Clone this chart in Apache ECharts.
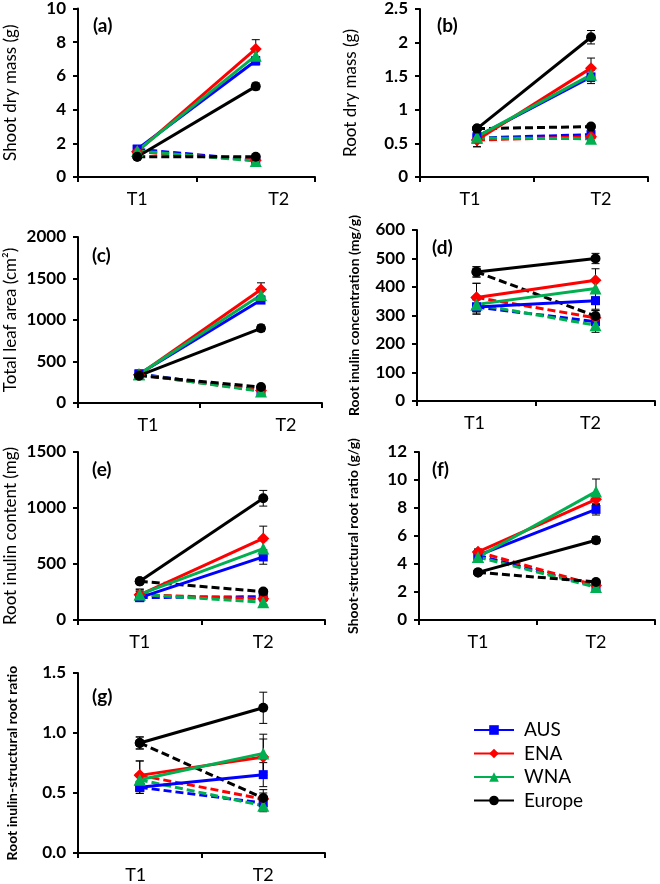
<!DOCTYPE html>
<html>
<head>
<meta charset="utf-8">
<script src="https://cdn.jsdelivr.net/npm/echarts@6/dist/echarts.min.js"></script>
<style>html,body{margin:0;padding:0;background:#fff;}#c{width:660px;height:884px;}</style>
</head>
<body>
<div id="c"></div>
<script>
// ---------- DATA ----------
const categories = ['T1', 'T2'];
const regions = ['AUS', 'ENA', 'WNA', 'Europe'];

// (a) Shoot dry mass (g)  [T1, T2] per region
const a_solid = [[1.65, 6.9], [1.5, 7.6], [1.55, 7.2], [1.2, 5.38]];
const a_solid_err = [[0.1, 0.25], [0.1, 0.55], [0.1, 0.3], [0.08, 0.2]];
const a_dashed = [[1.65, 1.0], [1.5, 1.0], [1.55, 0.95], [1.2, 1.2]];
const a_dashed_err = [[0.1, 0.08], [0.1, 0.08], [0.1, 0.08], [0.08, 0.08]];

// (b) Root dry mass (g)
const b_solid = [[0.6, 1.49], [0.55, 1.62], [0.6, 1.52], [0.72, 2.08]];
const b_solid_err = [[0.04, 0.1], [0.1, 0.15], [0.04, 0.1], [0.03, 0.1]];
const b_dashed = [[0.58, 0.63], [0.55, 0.6], [0.58, 0.57], [0.72, 0.75]];
const b_dashed_err = [[0.04, 0.03], [0.1, 0.03], [0.04, 0.03], [0.03, 0.03]];

// (c) Total leaf area (cm2)
const c_solid = [[350, 1240], [340, 1368], [345, 1300], [330, 900]];
const c_solid_err = [[20, 40], [20, 80], [20, 50], [20, 40]];
const c_dashed = [[350, 150], [340, 150], [345, 140], [330, 192]];
const c_dashed_err = [[20, 15], [20, 15], [20, 15], [20, 15]];

// (d) Root inulin concentration (mg/g)
const d_solid = [[330, 352], [363, 424], [339, 395], [453, 500]];
const d_solid_err = [[25, 30], [50, 40], [20, 30], [18, 18]];
const d_dashed = [[330, 278], [363, 292], [339, 266], [453, 298]];
const d_dashed_err = [[25, 25], [50, 25], [20, 25], [18, 20]];

// (e) Root inulin content (mg)
const e_solid = [[200, 563], [225, 728], [228, 638], [345, 1087]];
const e_solid_err = [[25, 65], [50, 110], [30, 70], [20, 70]];
const e_dashed = [[200, 208], [225, 189], [228, 159], [345, 254]];
const e_dashed_err = [[25, 20], [50, 20], [30, 20], [20, 20]];

// (f) Shoot-structural root ratio (g/g)
const f_solid = [[4.62, 7.9], [4.86, 8.62], [4.5, 9.17], [3.4, 5.7]];
const f_solid_err = [[0.2, 0.4], [0.2, 0.4], [0.2, 0.9], [0.1, 0.25]];
const f_dashed = [[4.62, 2.4], [4.86, 2.47], [4.5, 2.35], [3.4, 2.72]];
const f_dashed_err = [[0.2, 0.15], [0.2, 0.15], [0.2, 0.15], [0.1, 0.15]];

// (g) Root inulin-structural root ratio
const g_solid = [[0.547, 0.653], [0.647, 0.8], [0.61, 0.83], [0.917, 1.21]];
const g_solid_err = [[0.05, 0.1], [0.12, 0.15], [0.05, 0.16], [0.05, 0.13]];
const g_dashed = [[0.547, 0.417], [0.647, 0.45], [0.61, 0.394], [0.917, 0.458]];
const g_dashed_err = [[0.05, 0.05], [0.12, 0.05], [0.05, 0.05], [0.05, 0.07]];

// ---------- STYLE / LAYOUT ----------
const colors = ['#0000FF', '#FF0000', '#00B050', '#000000'];
const symbols = ['rect', 'diamond', 'triangle', 'circle'];
const symbolSizes = [9, 12, 12, 10];
const FONT = 'Lato';

const panels = [
  {tag: '(a)', solid: a_solid, solidErr: a_solid_err, dashed: a_dashed, dashedErr: a_dashed_err,
   grid: {left: 78, top: 8, width: 237, height: 169}, max: 10, interval: 2, dec: 0,
   name: 'Shoot dry mass (g)', nameBold: false, nameSize: 17, nameGap: 59, tagPos: [93, 16], shifts: [0, 23]},
  {tag: '(b)', solid: b_solid, solidErr: b_solid_err, dashed: b_dashed, dashedErr: b_dashed_err,
   grid: {left: 420, top: 9, width: 228, height: 168}, max: 2.5, interval: 0.5, dec: -1,
   name: 'Root dry mass (g)', nameBold: false, nameSize: 17, nameGap: 61, tagPos: [437, 16], shifts: [-7, 10]},
  {tag: '(c)', solid: c_solid, solidErr: c_solid_err, dashed: c_dashed, dashedErr: c_dashed_err,
   grid: {left: 78, top: 237, width: 244, height: 166}, max: 2000, interval: 500, dec: 0,
   name: 'Total leaf area (cm²)', nameBold: false, nameSize: 17, nameGap: 59, tagPos: [92, 246], shifts: [9, 25]},
  {tag: '(d)', solid: d_solid, solidErr: d_solid_err, dashed: d_dashed, dashedErr: d_dashed_err,
   grid: {left: 417, top: 230, width: 238, height: 171}, max: 600, interval: 100, dec: 0,
   name: 'Root inulin concentration (mg/g)', nameBold: true, nameSize: 14, nameGap: 56, tagPos: [432, 238], shifts: [-2, -5]},
  {tag: '(e)', solid: e_solid, solidErr: e_solid_err, dashed: e_dashed, dashedErr: e_dashed_err,
   grid: {left: 78, top: 452, width: 247, height: 168}, max: 1500, interval: 500, dec: 0,
   name: 'Root inulin content (mg)', nameBold: false, nameSize: 17, nameGap: 59, tagPos: [92, 460], shifts: [0, 0]},
  {tag: '(f)', solid: f_solid, solidErr: f_solid_err, dashed: f_dashed, dashedErr: f_dashed_err,
   grid: {left: 419, top: 452, width: 236, height: 168}, max: 12, interval: 2, dec: 0,
   name: 'Shoot-structural root ratio (g/g)', nameBold: true, nameSize: 14, nameGap: 59, tagPos: [432, 460], shifts: [0, 0]},
  {tag: '(g)', solid: g_solid, solidErr: g_solid_err, dashed: g_dashed, dashedErr: g_dashed_err,
   grid: {left: 78, top: 673, width: 247, height: 180}, max: 1.5, interval: 0.5, dec: 1,
   name: 'Root inulin-structural root ratio', nameBold: true, nameSize: 14, nameGap: 59, tagPos: [92, 687], shifts: [-4, 0]}
];

const grids = [], xAxes = [], yAxes = [], series = [], titles = [];

function padFor(s) {
  if (s > 0) return [0, 0, 0, 2 * s];
  if (s < 0) return [0, -2 * s, 0, 0];
  return [0, 0, 0, 0];
}

panels.forEach((p, i) => {
  grids.push(Object.assign({containLabel: false}, p.grid));
  xAxes.push({
    type: 'category', gridIndex: i, data: categories, boundaryGap: true,
    axisLine: {lineStyle: {color: '#000', width: 2}},
    axisTick: {show: true, length: 5, lineStyle: {color: '#000', width: 2}, alignWithLabel: false},
    axisLabel: {
      margin: 13, color: '#000', fontFamily: FONT, fontSize: 18,
      formatter: (v, idx) => '{t' + idx + '|' + v + '}',
      rich: {
        t0: {padding: padFor(p.shifts[0]), fontFamily: FONT, fontSize: 18, color: '#000'},
        t1: {padding: padFor(p.shifts[1]), fontFamily: FONT, fontSize: 18, color: '#000'}
      }
    },
    splitLine: {show: false}
  });
  yAxes.push({
    type: 'value', gridIndex: i, min: 0, max: p.max, interval: p.interval,
    name: p.name, nameLocation: 'middle', nameRotate: 90, nameGap: p.nameGap,
    nameTextStyle: {fontFamily: FONT, fontSize: p.nameSize, fontWeight: p.nameBold ? 'bold' : 'normal', color: '#000'},
    axisLine: {show: true, lineStyle: {color: '#000', width: 2}},
    axisTick: {show: true, length: 5, lineStyle: {color: '#000', width: 2}},
    axisLabel: {
      margin: 12, color: '#000', fontFamily: FONT, fontSize: 17, fontWeight: 'bold',
      formatter: v => p.dec > 0 ? v.toFixed(p.dec) : String(v)
    },
    splitLine: {show: false}
  });
  titles.push({text: p.tag, left: p.tagPos[0], top: p.tagPos[1], padding: 0,
    textStyle: {fontFamily: FONT, fontSize: 19, fontWeight: 'bold', color: '#000'}});

  const errData = [];
  // dashed first (drawn underneath)
  regions.forEach((r, k) => {
    series.push({
      name: r + ' (T2 dashed)', type: 'line', xAxisIndex: i, yAxisIndex: i,
      data: p.dashed[k], symbol: symbols[k], symbolSize: symbolSizes[k],
      lineStyle: {color: colors[k], width: 3, type: [8, 4]},
      itemStyle: {color: colors[k]}, z: 2, animation: false
    });
    p.dashed[k].forEach((v, t) => errData.push([t, v, p.dashedErr[k][t]]));
  });
  regions.forEach((r, k) => {
    series.push({
      name: r, type: 'line', xAxisIndex: i, yAxisIndex: i,
      data: p.solid[k], symbol: symbols[k], symbolSize: symbolSizes[k],
      lineStyle: {color: colors[k], width: 3, type: 'solid'},
      itemStyle: {color: colors[k]}, z: 3, animation: false
    });
    p.solid[k].forEach((v, t) => errData.push([t, v, p.solidErr[k][t]]));
  });
  series.push({
    type: 'custom', xAxisIndex: i, yAxisIndex: i, data: errData, z: 1, animation: false,
    encode: {x: 0, y: 1}, silent: true,
    renderItem: (params, api) => {
      const x = api.value(0), y = api.value(1), e = api.value(2);
      const top = api.coord([x, y + e]);
      const bot = api.coord([x, y - e]);
      const cw = 4;
      const st = {stroke: '#000', lineWidth: 1};
      return {type: 'group', children: [
        {type: 'line', shape: {x1: top[0], y1: top[1], x2: bot[0], y2: bot[1]}, style: st},
        {type: 'line', shape: {x1: top[0] - cw, y1: top[1], x2: top[0] + cw, y2: top[1]}, style: st},
        {type: 'line', shape: {x1: bot[0] - cw, y1: bot[1], x2: bot[0] + cw, y2: bot[1]}, style: st}
      ]};
    }
  });
});

const chart = echarts.init(document.getElementById('c'), null, {renderer: 'canvas'});
chart.setOption({
  backgroundColor: '#fff',
  animation: false,
  title: titles,
  grid: grids,
  xAxis: xAxes,
  yAxis: yAxes,
  legend: {
    data: regions, orient: 'vertical', left: 473, top: 719, padding: 0,
    itemWidth: 40, itemHeight: 12, itemGap: 1.5,
    textStyle: {fontFamily: FONT, fontSize: 19, color: '#000', lineHeight: 22, padding: [0, 0, 0, 5]}
  },
  series: series
});
</script>
</body>
</html>
